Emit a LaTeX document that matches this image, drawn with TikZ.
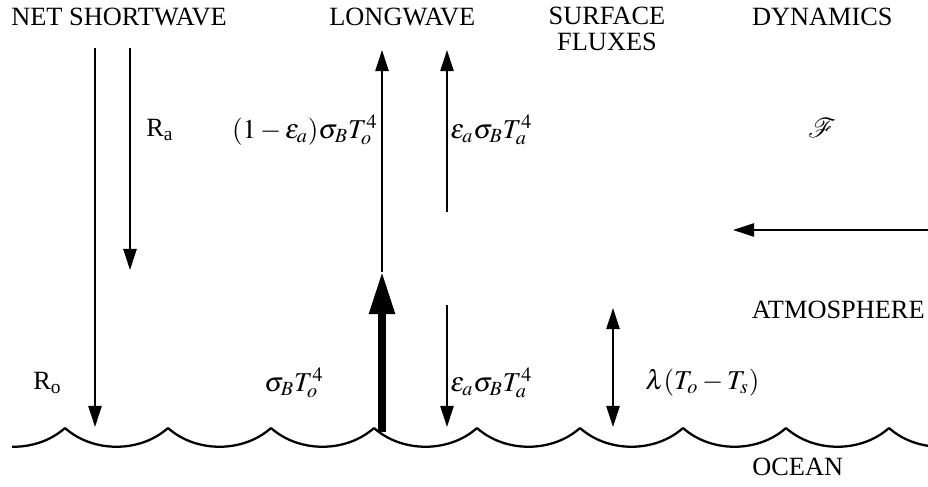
\documentclass[tikz,border=0pt]{standalone}
\usepackage{mathptmx}
\usepackage[no-math]{fontspec}
\setmainfont{Liberation Serif}
\usetikzlibrary{arrows.meta}

\begin{document}
\begin{tikzpicture}[
    x=0.02cm, y=-0.02cm,
    every node/.style={font=\fontsize{15}{14.5}\selectfont, inner sep=0pt},
    term/.style={font=\fontsize{15.5}{15}\selectfont},
    flux/.style={-{Triangle[length=12pt, width=7.5pt]}, line width=1.1pt},
    bigflux/.style={-{Triangle[length=24pt, width=14pt]}, line width=4pt},
    twoway/.style={{Triangle[length=12pt, width=7.5pt]}-{Triangle[length=12pt, width=7.5pt]}, line width=1.1pt},
    sea/.style={line width=1.3pt}
    ]
    \useasboundingbox (0,0) rectangle (928,486);
    % headings
    \node[anchor=west] (SW) at (11,17) {NET SHORTWAVE};
    \node[anchor=west] (LW) at (329,17) {LONGWAVE};
    \node[align=center] (SF) at (607,29) {SURFACE\\FLUXES};
    \node[anchor=east] (DY) at (893,17) {DYNAMICS};
    \node[anchor=east] (ATM) at (925,310) {ATMOSPHERE};
    \node[anchor=west] (OC) at (752,467) {OCEAN};
    % end points of the fluxes
    \coordinate (swa) at (95,48);
    \coordinate (swb) at (95,427);
    \coordinate (raa) at (130,48);
    \coordinate (rab) at (130,270);
    \coordinate (lwb) at (382,432);
    \coordinate (lwm) at (382,272);
    \coordinate (lwt) at (382,50);
    \coordinate (eub) at (447,212);
    \coordinate (eut) at (447,50);
    \coordinate (edt) at (447,305);
    \coordinate (edb) at (447,427);
    \coordinate (lmt) at (613,308);
    \coordinate (lmb) at (613,427);
    \coordinate (dyr) at (928,230);
    \coordinate (dyl) at (733,230);
    \draw[flux] (swa) -- (swb);
    \draw[flux] (raa) -- (rab);
    \draw[flux] (lwm) -- (lwt);
    \draw[bigflux] (lwb) -- (lwm);
    \draw[flux] (eub) -- (eut);
    \draw[flux] (edt) -- (edb);
    \draw[twoway] (lmt) -- (lmb);
    \draw[flux] (dyr) -- (dyl);
    % labels
    \node[anchor=west] (Ra) at (146,130) {R\textsubscript{a}};
    \node[anchor=west] (Ro) at (33,383) {R\textsubscript{o}};
    \node[term, anchor=east] (Lup) at (378,130) {$(1-\varepsilon_a)\sigma_B T_o^4$};
    \node[term, anchor=west] (Eup) at (450,130) {$\varepsilon_a\sigma_B T_a^4$};
    \node[term] (Sig) at (294,383) {$\sigma_B T_o^4$};
    \node[term, anchor=west] (Edn) at (450,383) {$\varepsilon_a\sigma_B T_a^4$};
    \node[term, anchor=west] (Lam) at (645,383) {$\lambda(T_o-T_s)$};
    \node[term] (F) at (822,128) {$\mathcal{F}$};
    % sea surface
    \begin{scope}
      \clip (12,0) rectangle (928,486);
      \foreach \k in {-1,...,8}{
        \pgfmathsetmacro\cx{65+103*\k}
        \draw[sea] (\cx,428) .. controls (\cx+28,453) and (\cx+75,453) .. (\cx+103,428);
      }
    \end{scope}
\end{tikzpicture}
\end{document}
